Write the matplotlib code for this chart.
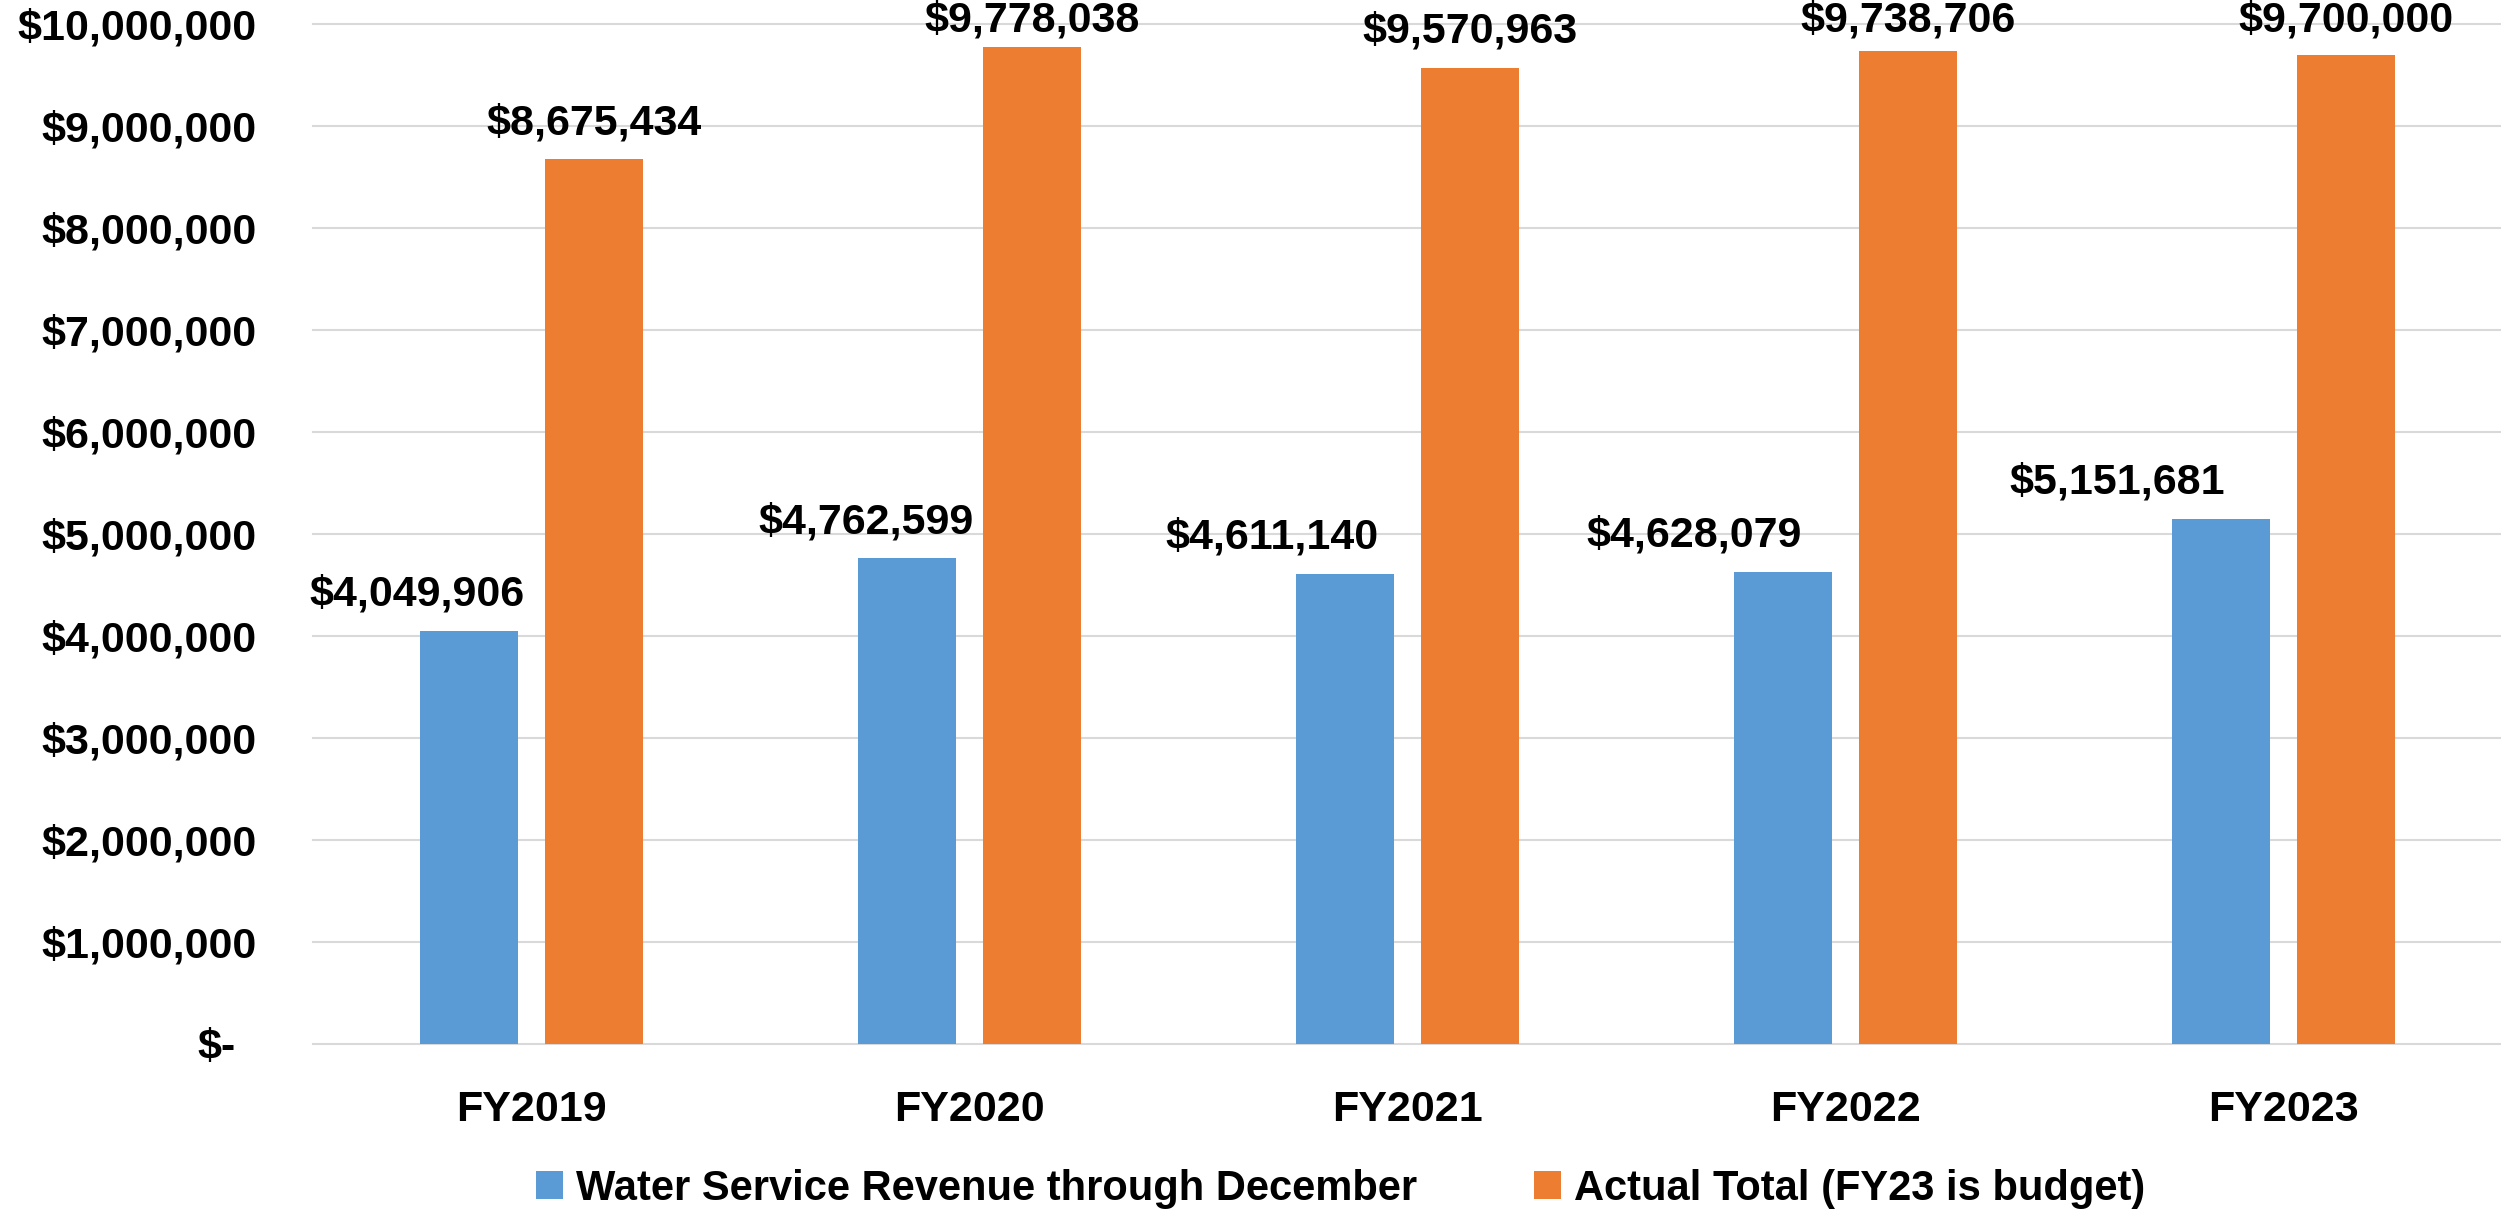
import matplotlib
matplotlib.use("Agg")
import matplotlib.pyplot as plt
import numpy as np

# ---------------- data ----------------
categories = ["FY2019", "FY2020", "FY2021", "FY2022", "FY2023"]
water_service_dec = [4049906, 4762599, 4611140, 4628079, 5151681]
actual_total = [8675434, 9778038, 9570963, 9738706, 9700000]
series_names = ["Water Service Revenue through December", "Actual Total (FY23 is budget)"]
ytick_values = [0, 1000000, 2000000, 3000000, 4000000, 5000000,
                6000000, 7000000, 8000000, 9000000, 10000000]

# ---------------- style ----------------
plt.rcParams["font.family"] = ["Liberation Sans", "DejaVu Sans"]
plt.rcParams["font.weight"] = "bold"
BLUE = "#5B9BD5"
ORANGE = "#ED7D31"
GRID = "#D9D9D9"
TXT = "#000000"

W, H = 2501, 1209
fig = plt.figure(figsize=(W / 100, H / 100), dpi=100)
ax = fig.add_axes([312.5 / W, (H - 1044) / H, (2502.5 - 312.5) / W, (1044 - 24) / H])

x = np.arange(len(categories))
bw = 0.224
off = 0.1427
b1 = ax.bar(x - off, water_service_dec, bw, color=BLUE, zorder=2)
b2 = ax.bar(x + off, actual_total, bw, color=ORANGE, zorder=2)

ax.set_xlim(-0.5, len(categories) - 0.5)
ax.set_ylim(ytick_values[0], ytick_values[-1])
ax.set_xticks(x)
ax.set_xticklabels(categories)
ax.set_yticks(ytick_values)
ax.set_yticklabels(["" if v == 0 else f"${v:,.0f}" for v in ytick_values])
for lbl in ax.get_yticklabels():
    lbl.set_verticalalignment("center_baseline")

ax.tick_params(axis="y", length=0, pad=40, labelsize=31, labelcolor=TXT)
ax.tick_params(axis="x", length=0, pad=33, labelsize=31, labelcolor=TXT)

# "$-" label (accounting style, padded on the right)
ax.annotate("$-", xy=(0, ytick_values[0]), xycoords=("axes fraction", "data"),
            xytext=(-55.5, 0), textcoords="offset points", ha="right",
            va="center_baseline", fontsize=31, fontweight="bold", color=TXT,
            annotation_clip=False)

ax.yaxis.grid(True, color=GRID, linewidth=1.5)
ax.xaxis.grid(False)
ax.set_axisbelow(True)
for gl in ax.get_ygridlines():
    gl.set_clip_on(False)
for s in ax.spines.values():
    s.set_visible(False)


def label_offset_pt(xc, v, gap_px=25.0, min_baseline_from_top=32.0):
    """Vertical offset (points) of a label baseline above the bar top,
    pushed down if it would leave the chart area (as Excel does)."""
    top_from_top = H - ax.transData.transform((xc, v))[1]
    baseline = max(top_from_top - gap_px, min_baseline_from_top)
    return (top_from_top - baseline) * 0.72


# data labels
blue_shift_px = [-52, -41, -73, -89, -104]
for i, rect in enumerate(b1):
    v = water_service_dec[i]
    xc = rect.get_x() + rect.get_width() / 2
    ax.annotate(f"${v:,.0f}", xy=(xc, v),
                xytext=(blue_shift_px[i] * 0.72, label_offset_pt(xc, v)),
                textcoords="offset points",
                ha="center", va="baseline", fontsize=31, fontweight="bold", color=TXT)
for i, rect in enumerate(b2):
    v = actual_total[i]
    xc = rect.get_x() + rect.get_width() / 2
    ax.annotate(f"${v:,.0f}", xy=(xc, v),
                xytext=(0, label_offset_pt(xc, v)), textcoords="offset points",
                ha="center", va="baseline", fontsize=31, fontweight="bold", color=TXT,
                annotation_clip=False)

fig.legend(handles=[b1, b2], labels=series_names, loc="center",
           bbox_to_anchor=(1340.5 / W, 20 / H), ncol=2, frameon=False,
           prop={"size": 30, "weight": "bold"}, handlelength=0.65, handleheight=0.65,
           handletextpad=0.31, columnspacing=2.8, borderpad=0, borderaxespad=0)

fig.savefig("out.png", dpi=100)
